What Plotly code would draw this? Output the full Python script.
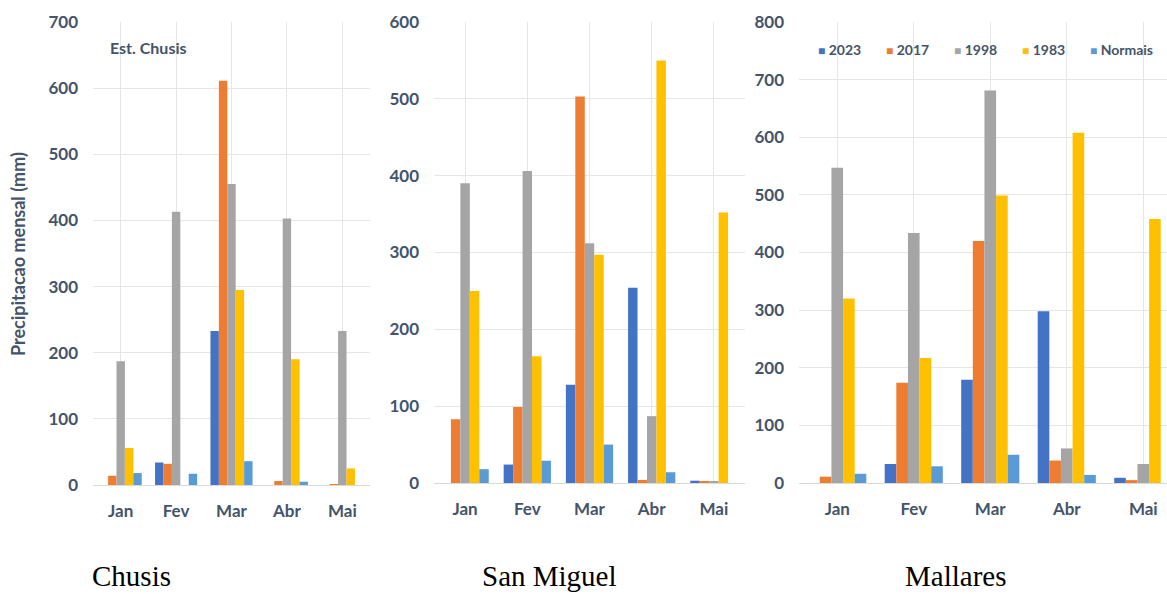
import plotly.graph_objects as go

months = ["Jan", "Fev", "Mar", "Abr", "Mai"]
series_names = ["2023", "2017", "1998", "1983", "Normais"]
colors = ["#4472C4", "#ED7D31", "#A5A5A5", "#FFC000", "#5B9BD5"]

# Chusis
chusis_2023 = [0, 34, 233, 0, 0]
chusis_2017 = [14, 32, 611, 6, 1]
chusis_1998 = [187, 413, 455, 403, 233]
chusis_1983 = [56, 0, 295, 190, 25]
chusis_normais = [18, 17, 36, 5, 0]

# San Miguel
sanmiguel_2023 = [0, 24, 128, 254, 3]
sanmiguel_2017 = [83, 99, 503, 4, 2]
sanmiguel_1998 = [390, 406, 312, 87, 2]
sanmiguel_1983 = [250, 165, 297, 550, 352]
sanmiguel_normais = [18, 29, 50, 14, 0]

# Mallares
mallares_2023 = [0, 33, 179, 298, 9]
mallares_2017 = [11, 174, 420, 39, 5]
mallares_1998 = [547, 434, 681, 60, 33]
mallares_1983 = [320, 217, 499, 608, 458]
mallares_normais = [16, 29, 49, 14, 0]

station_titles = ["Chusis", "San Miguel", "Mallares"]
y_tick_values = [[0, 100, 200, 300, 400, 500, 600, 700],
                 [0, 100, 200, 300, 400, 500, 600],
                 [0, 100, 200, 300, 400, 500, 600, 700, 800]]
y_max = [700, 600, 800]

stations = [
    [chusis_2023, chusis_2017, chusis_1998, chusis_1983, chusis_normais],
    [sanmiguel_2023, sanmiguel_2017, sanmiguel_1998, sanmiguel_1983, sanmiguel_normais],
    [mallares_2023, mallares_2017, mallares_1998, mallares_1983, mallares_normais],
]

W, H = 1167, 594
TXT = "#44546A"
FONT = "Lato"
GRID = "#E6E6E6"

def px_x(v):
    return v / W

def px_y(v):
    return 1 - v / H

x_domains = [(93, 370), (434, 745), (799, 1167)]
y_domains = [(22, 485), (22, 483), (22, 483)]
x_ranges = [[-0.5, 4.5], [-0.5, 4.5], [-0.5, 4.31]]

fig = go.Figure()
for i, data in enumerate(stations):
    ax = "" if i == 0 else str(i + 1)
    for name, vals, col in zip(series_names, data, colors):
        fig.add_trace(go.Bar(
            x=list(range(len(months))), y=vals, name=name,
            marker=dict(color=col, line=dict(width=0)),
            xaxis="x" + ax, yaxis="y" + ax, showlegend=False,
        ))
    xd = x_domains[i]
    yd = y_domains[i]
    fig.layout["xaxis" + ax] = dict(
        domain=[px_x(xd[0]), px_x(xd[1])], anchor="y" + ax,
        tickmode="array", tickvals=list(range(len(months))), ticktext=months,
        range=x_ranges[i], tickson="boundaries", showgrid=True, gridcolor=GRID,
        gridwidth=1, ticks="", showline=False, zeroline=False, automargin=False,
        tickfont=dict(family=FONT, size=17, color=TXT, weight="bold"),
        ticklabelstandoff=14,
    )
    fig.layout["yaxis" + ax] = dict(
        domain=[px_y(yd[1]), px_y(yd[0])], anchor="x" + ax,
        range=[0, y_max[i]], tickvals=y_tick_values[i],
        showgrid=True, gridcolor=GRID, gridwidth=1, zeroline=True,
        zerolinecolor="#DADADA", zerolinewidth=1, ticks="", showline=False,
        automargin=False,
        tickfont=dict(family=FONT, size=17, color=TXT, weight="bold"),
        ticklabelstandoff=14,
    )

annotations = []
# y-axis title
annotations.append(dict(
    text="Precipitacao mensal (mm)", x=px_x(18), y=px_y(254), xref="paper", yref="paper",
    textangle=-90, showarrow=False, xanchor="center", yanchor="middle",
    font=dict(family=FONT, size=18, color=TXT, weight="bold"),
))
# station label inside Chusis
annotations.append(dict(
    text="Est. Chusis", x=px_x(108), y=px_y(47), xref="paper", yref="paper",
    showarrow=False, xanchor="left", yanchor="middle",
    font=dict(family=FONT, size=16, color=TXT, weight="bold"),
))
# legend
legend_x = [816, 884, 952, 1020, 1088]
for name, col, lx in zip(series_names, colors, legend_x):
    annotations.append(dict(
        text=f'<span style="color:{col};font-size:12px">■</span> {name}',
        x=px_x(lx), y=px_y(50),
        xref="paper", yref="paper", showarrow=False, xanchor="left", yanchor="middle",
        font=dict(family=FONT, size=14, color=TXT, weight="bold"),
    ))
# station titles below
title_x = [131, 549, 955]
for t, tx in zip(station_titles, title_x):
    annotations.append(dict(
        text=t, x=px_x(tx), y=px_y(576), xref="paper", yref="paper",
        showarrow=False, xanchor="center", yanchor="middle",
        font=dict(family="Liberation Serif", size=29, color="#000000"),
    ))

fig.update_layout(
    template="none",
    width=W, height=H, margin=dict(l=0, r=0, t=0, b=0, pad=0, autoexpand=False),
    paper_bgcolor="white", plot_bgcolor="white",
    barmode="group", bargap=0.24, bargroupgap=0,
    showlegend=False,
    annotations=annotations,
)

fig.write_html("out.html", config={"displayModeBar": False},
               post_script="document.body.style.margin='0';")
